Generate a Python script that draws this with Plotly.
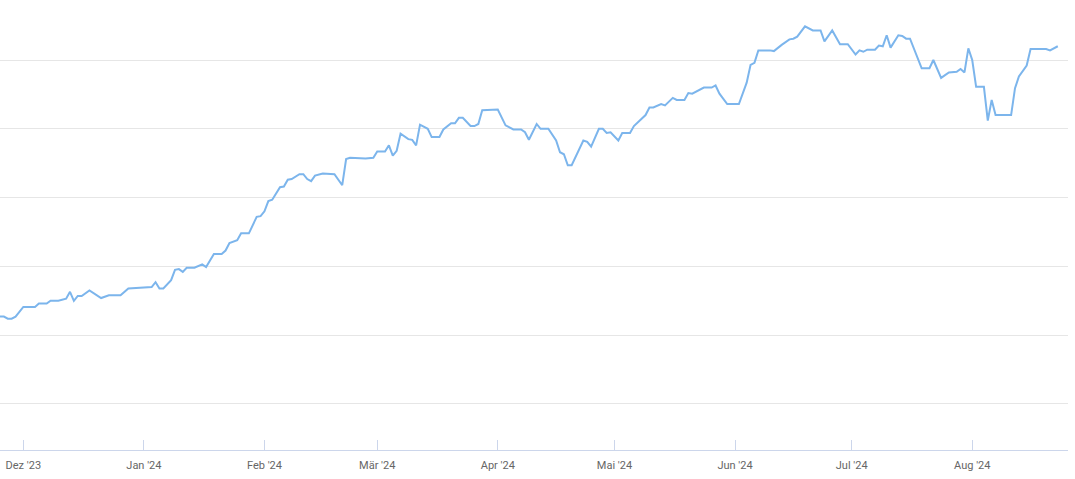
import plotly.graph_objects as go

dates = [
    "2023-11-25", "2023-11-26", "2023-11-27", "2023-11-28", "2023-11-29", "2023-12-01",
    "2023-12-04", "2023-12-05", "2023-12-07", "2023-12-08", "2023-12-10", "2023-12-12",
    "2023-12-13", "2023-12-14", "2023-12-15", "2023-12-16", "2023-12-18", "2023-12-21",
    "2023-12-23", "2023-12-26", "2023-12-28",
    "2024-01-01", "2024-01-03", "2024-01-04", "2024-01-05", "2024-01-06", "2024-01-08",
    "2024-01-09", "2024-01-10", "2024-01-11", "2024-01-12", "2024-01-14", "2024-01-16",
    "2024-01-17", "2024-01-19", "2024-01-21", "2024-01-22", "2024-01-23", "2024-01-25",
    "2024-01-26", "2024-01-28", "2024-01-30", "2024-01-31",
    "2024-02-01", "2024-02-02", "2024-02-03", "2024-02-05", "2024-02-06", "2024-02-07",
    "2024-02-08", "2024-02-10", "2024-02-11", "2024-02-12", "2024-02-13", "2024-02-14",
    "2024-02-16", "2024-02-19", "2024-02-21", "2024-02-22", "2024-02-23", "2024-02-27",
    "2024-02-29",
    "2024-03-01", "2024-03-03", "2024-03-04", "2024-03-05", "2024-03-06", "2024-03-07",
    "2024-03-09", "2024-03-10", "2024-03-11", "2024-03-12", "2024-03-14", "2024-03-15",
    "2024-03-17", "2024-03-18", "2024-03-20", "2024-03-21", "2024-03-22", "2024-03-23",
    "2024-03-25", "2024-03-26", "2024-03-27", "2024-03-28",
    "2024-04-01", "2024-04-03", "2024-04-05", "2024-04-07", "2024-04-08", "2024-04-09",
    "2024-04-11", "2024-04-12", "2024-04-14", "2024-04-16", "2024-04-17", "2024-04-18",
    "2024-04-19", "2024-04-20", "2024-04-23", "2024-04-24", "2024-04-25", "2024-04-27",
    "2024-04-28", "2024-04-29", "2024-04-30",
    "2024-05-02", "2024-05-03", "2024-05-05", "2024-05-06", "2024-05-09", "2024-05-10",
    "2024-05-11", "2024-05-13", "2024-05-14", "2024-05-16", "2024-05-17", "2024-05-19",
    "2024-05-20", "2024-05-21", "2024-05-24", "2024-05-26", "2024-05-27", "2024-05-28",
    "2024-05-30", "2024-05-31",
    "2024-06-02", "2024-06-04", "2024-06-05", "2024-06-06", "2024-06-07", "2024-06-10",
    "2024-06-11", "2024-06-13", "2024-06-14", "2024-06-15", "2024-06-16", "2024-06-17",
    "2024-06-19", "2024-06-21", "2024-06-23", "2024-06-24", "2024-06-26", "2024-06-28",
    "2024-06-30",
    "2024-07-02", "2024-07-03", "2024-07-04", "2024-07-05", "2024-07-07", "2024-07-08",
    "2024-07-09", "2024-07-10", "2024-07-11", "2024-07-13", "2024-07-14", "2024-07-15",
    "2024-07-16", "2024-07-19", "2024-07-21", "2024-07-22", "2024-07-24", "2024-07-26",
    "2024-07-28", "2024-07-29", "2024-07-30", "2024-07-31",
    "2024-08-01", "2024-08-02", "2024-08-04", "2024-08-05", "2024-08-06", "2024-08-07",
    "2024-08-11", "2024-08-12", "2024-08-13", "2024-08-15", "2024-08-16", "2024-08-19",
    "2024-08-20", "2024-08-21", "2024-08-23",
]

values = [
    22.7, 22.7, 22.4, 22.4, 22.7, 24.1,
    24.1, 24.6, 24.6, 25.0, 25.0, 25.3,
    26.3, 25.0, 25.7, 25.7, 26.5, 25.4,
    25.8, 25.8, 26.8,
    26.9, 27.0, 27.7, 26.8, 26.8, 28.0,
    29.5, 29.6, 29.2, 29.8, 29.8, 30.3,
    29.9, 31.8, 31.8, 32.3, 33.4, 33.8,
    34.8, 34.8, 37.2, 37.3,
    38.0, 39.5, 39.7, 41.5, 41.6, 42.6,
    42.7, 43.4, 43.4, 42.7, 42.4, 43.2,
    43.5, 43.4, 41.8, 45.6, 45.8, 45.7,
    45.8,
    46.7, 46.7, 47.6, 46.1, 46.8, 49.3,
    48.5, 48.4, 47.6, 50.6, 50.0, 48.8,
    48.8, 49.9, 50.8, 50.8, 51.6, 51.6,
    50.4, 50.4, 50.7, 52.7,
    52.8, 50.5, 49.9, 49.9, 49.5, 48.4,
    50.7, 50.0, 50.0, 48.3, 46.6, 46.3,
    44.7, 44.7, 48.3, 48.1, 47.4, 50.0,
    50.0, 49.4, 49.5,
    48.3, 49.4, 49.4, 50.4, 52.0, 53.1,
    53.1, 53.6, 53.4, 54.5, 54.2, 54.2,
    55.2, 55.1, 56.0, 56.0, 56.3, 55.1,
    53.6, 53.6,
    53.6, 56.7, 59.3, 59.6, 61.4, 61.4,
    61.3, 62.2, 62.6, 63.0, 63.1, 63.4,
    64.9, 64.3, 64.3, 62.7, 64.3, 62.3,
    62.3,
    60.8, 61.4, 61.2, 61.5, 61.5, 62.1,
    62.0, 63.6, 61.8, 63.6, 63.5, 63.1,
    63.1, 58.8, 58.8, 60.0, 57.4, 58.2,
    58.3, 58.7, 58.2, 61.7,
    60.0, 56.1, 56.1, 51.2, 54.2, 52.0,
    52.0, 55.9, 57.6, 59.2, 61.6, 61.6,
    61.6, 61.4, 62.0,
]

tick_dates = ["2023-12-01", "2024-01-01", "2024-02-01", "2024-03-01", "2024-04-01",
              "2024-05-01", "2024-06-01", "2024-07-01", "2024-08-01"]
tick_labels = ["Dez '23", "Jan '24", "Feb '24", "Mär '24", "Apr '24",
               "Mai '24", "Jun '24", "Jul '24", "Aug '24"]

fig = go.Figure()
fig.add_trace(go.Scatter(
    x=dates, y=values, mode="lines",
    line=dict(color="#7cb5ec", width=2),
    hoverinfo="x+y", showlegend=False,
))

fig.update_layout(
    width=1075, height=479,
    margin=dict(l=0, r=7, t=10, b=29),
    paper_bgcolor="white", plot_bgcolor="white",
    font=dict(family="Roboto, Arial, sans-serif", size=11, color="#666666"),
    xaxis=dict(
        type="date",
        range=["2023-11-25 00:00", "2024-08-25 15:00"],
        tickvals=tick_dates, ticktext=tick_labels,
        ticks="inside", ticklen=10, tickcolor="#ccd6eb", tickwidth=1,
        ticklabelstandoff=5,
        showline=True, linecolor="#ccd6eb", linewidth=1,
        showgrid=False, zeroline=False,
        tickfont=dict(size=11, color="#666666"),
    ),
    yaxis=dict(
        range=[3.31, 67.27],
        tick0=0, dtick=10,
        showticklabels=False, ticks="",
        showgrid=True, gridcolor="#e6e6e6", gridwidth=1,
        zeroline=False, showline=False,
    ),
)

fig.write_html(
    "out.html",
    config={"displayModeBar": False},
    post_script="document.body.style.margin='0';document.body.style.padding='0';",
)
